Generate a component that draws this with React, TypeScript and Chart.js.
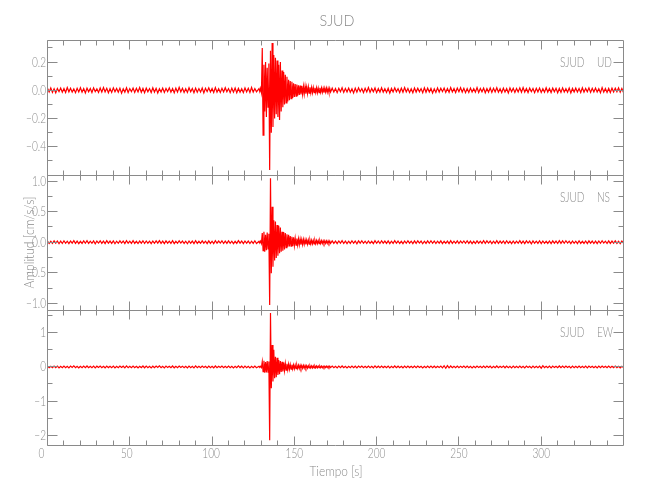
import React, { useEffect, useRef } from "react";
import { Chart, registerables } from "chart.js";

Chart.register(...registerables);

// ---------- texts ----------
const chartTitle = "SJUD";
const stationName = "SJUD";
const xAxisTitle = "Tiempo [s]";
const yAxisTitle = "Amplitud [cm/s/s]";
const componentNames = ["UD", "NS", "EW"];

// ---------- x axis ----------
const timeMin = 0;
const timeMax = 350;
const xMajorTicks = [0, 50, 100, 150, 200, 250, 300];
const xMajorLabels = ["0", "50", "100", "150", "200", "250", "300"];
const xMinorTicks = [10, 20, 30, 40, 60, 70, 80, 90, 110, 120, 130, 140, 160, 170, 180, 190, 210, 220, 230, 240, 260, 270, 280, 290, 310, 320, 330, 340];

// ---------- y axes ----------
const udRange = [-0.6, 0.356];
const udMajorTicks = [-0.4, -0.2, 0, 0.2];
const udMajorLabels = ["\u22120.4", "\u22120.2", "0.0", "0.2"];
const udMinorTicks = [-0.5, -0.3, -0.1, 0.1, 0.3];

const nsRange = [-1.11, 1.1];
const nsMajorTicks = [-1, -0.5, 0, 0.5, 1];
const nsMajorLabels = ["\u22121.0", "\u22120.5", "0.0", "0.5", "1.0"];
const nsMinorTicks = [-0.75, -0.25, 0.25, 0.75];

const ewRange = [-2.29, 1.67];
const ewMajorTicks = [-2, -1, 0, 1];
const ewMajorLabels = ["\u22122", "\u22121", "0", "1"];
const ewMinorTicks = [-1.5, -0.5, 0.5, 1.5];

// ---------- traces (successive peaks, in thousandths of cm/s/s) ----------
const amplitudeUnit = 0.001;
const preEventStart = 0; // s
const noiseStep = 1; // s
const eventStart = 128.5; // s
const eventStep = 0.5; // s
const postEventStart = 173; // s

const udPre = [
  14, -12, 17, -15, 11, -18, 13, -10, 16, -14,
  12, -16, 19, -11, 15, -13, 10, -17, 14, -12,
  18, -14, 12, -19, 15, -11, 13, -16, 17, -10,
  11, -15, 16, -13, 20, -12, 14, -18, 12, -15,
  17, -11, 13, -14, 15, -20, 11, -13, 18, -16,
  12, -10, 16, -15, 14, -12, 19, -14, 13, -17,
  15, -11, 12, -16, 18, -13, 14, -19, 11, -12,
  16, -15, 13, -10, 17, -14, 12, -18, 15, -13,
  21, -12, 14, -16, 11, -15, 18, -11, 13, -17,
  15, -14, 12, -13, 16, -19, 14, -10, 17, -12,
  13, -16, 19, -14, 11, -15, 14, -12, 18, -11,
  12, -17, 15, -13, 16, -18, 13, -14, 11, -16,
  17, -12, 14, -15, 20, -13, 12, -11,
];
const udEvent = [
  12, -10, 14, -15, 300, -317, 180, -150, 200, -190,
  160, -120, 190, -565, 280, -300, 335, -260, 250, -200,
  230, -170, 210, -190, 180, -210, 200, -150, 140, -120,
  130, -100, 110, -90, 95, -80, 75, -70, 65, -60,
  60, -55, 50, -48, 45, -42, 40, -38, 36, -33,
  34, -30, 30, -28, 27, -26, 28, -24, 22, -23,
  24, -20, 21, -19, 20, -18, 19, -17, 18, -16,
  17, -18, 15, -16, 17, -14, 16, -15, 14, -16,
  15, -13, 16, -14, 13, -15, 14, -12,
];
const udPost = [
  15, -13, 12, -17, 14, -11, 18, -15, 13, -12,
  16, -14, 11, -19, 15, -13, 17, -10, 12, -16,
  14, -12, 19, -15, 13, -11, 16, -17, 12, -14,
  18, -13, 11, -15, 14, -20, 13, -12, 17, -11,
  12, -16, 15, -14, 19, -12, 13, -15, 11, -18,
  16, -13, 14, -11, 12, -17, 18, -14, 15, -12,
  13, -19, 11, -15, 17, -13, 14, -10, 16, -15,
  12, -14, 20, -12, 13, -16, 15, -11, 18, -13,
  14, -17, 12, -15, 16, -12, 11, -14, 19, -16,
  13, -11, 15, -18, 12, -13, 17, -15, 14, -12,
  18, -14, 11, -16, 15, -13, 12, -19, 16, -11,
  14, -15, 13, -12, 17, -14, 19, -13, 12, -16,
  15, -10, 13, -17, 14, -12, 16, -15, 11, -14,
  18, -13, 12, -16, 15, -11, 14, -18, 13, -15,
  17, -12, 11, -14, 16, -19, 13, -12, 15, -13,
  12, -16, 18, -14, 13, -11, 17, -15, 14, -12,
  16, -13, 11, -17, 19, -14, 12, -15, 13, -16,
  15, -12, 14, -11, 17, -13, 12, -15,
];

const nsPre = [
  18, -22, 15, -19, 24, -16, 20, -25, 17, -21,
  23, -18, 16, -24, 19, -15, 26, -20, 18, -23,
  15, -19, 22, -17, 25, -21, 16, -18, 20, -26,
  19, -15, 23, -20, 17, -22, 24, -16, 18, -19,
  21, -25, 16, -18, 22, -15, 19, -23, 25, -17,
  17, -20, 24, -19, 15, -22, 18, -16, 23, -21,
  20, -17, 16, -24, 19, -18, 22, -15, 26, -20,
  18, -23, 21, -16, 17, -19, 24, -22, 15, -18,
  23, -15, 19, -21, 16, -25, 20, -17, 18, -22,
  25, -19, 15, -18, 22, -16, 17, -24, 21, -20,
  16, -22, 24, -17, 19, -15, 23, -21, 18, -19,
  22, -18, 17, -23, 15, -20, 26, -16, 19, -24,
  20, -17, 18, -22, 16, -19, 23, -21,
];
const nsEvent = [
  15, -14, 18, -20, 150, -140, 170, -155, 120, -130,
  160, -110, 140, -1030, 1045, -510, 580, -400, 360, -300,
  340, -260, 280, -220, 270, -180, 240, -155, 170, -140,
  165, -120, 150, -90, 130, -75, 120, -70, 100, -65,
  90, -60, 80, -55, 65, -48, 60, -45, 55, -42,
  50, -40, 45, -38, 44, -35, 40, -34, 38, -32,
  36, -30, 34, -29, 33, -27, 31, -26, 30, -25,
  29, -24, 27, -23, 26, -22, 25, -21, 24, -20,
  23, -19, 22, -20, 21, -18, 19, -20,
];
const nsPost = [
  22, -19, 17, -24, 20, -16, 25, -21, 18, -23,
  16, -20, 23, -17, 19, -25, 21, -15, 24, -18,
  17, -22, 20, -19, 15, -23, 26, -18, 19, -21,
  23, -16, 18, -20, 22, -24, 16, -19, 25, -17,
  19, -21, 15, -23, 20, -18, 24, -16, 17, -22,
  21, -19, 23, -15, 18, -25, 16, -20, 22, -17,
  24, -18, 19, -22, 17, -16, 21, -24, 15, -19,
  18, -23, 25, -20, 16, -18, 22, -21, 19, -15,
  20, -17, 23, -19, 18, -24, 15, -22, 21, -16,
  17, -20, 24, -18, 22, -15, 19, -23, 16, -21,
  25, -19, 18, -16, 20, -22, 23, -17, 15, -24,
  19, -21, 16, -18, 24, -20, 17, -23, 22, -15,
  18, -25, 21, -17, 16, -19, 23, -22, 20, -18,
  15, -20, 19, -24, 22, -16, 18, -21, 25, -19,
  21, -17, 24, -15, 17, -23, 20, -18, 16, -22,
  23, -19, 15, -20, 19, -24, 22, -16, 18, -21,
  17, -23, 20, -18, 24, -15, 16, -22, 21, -19,
  19, -16, 22, -20, 15, -24, 18, -17,
];

const ewPre = [
  22, -25, 18, -20, 27, -19, 24, -28, 20, -23,
  26, -21, 19, -27, 23, -18, 29, -22, 21, -26,
  18, -24, 25, -20, 28, -23, 19, -21, 24, -30,
  22, -18, 26, -24, 20, -25, 27, -19, 21, -22,
  25, -28, 19, -21, 26, -18, 22, -27, 29, -20,
  20, -24, 27, -22, 18, -26, 21, -19, 28, -25,
  23, -20, 19, -27, 22, -21, 26, -18, 30, -23,
  21, -26, 24, -19, 20, -22, 28, -25, 18, -21,
  27, -18, 22, -24, 19, -29, 23, -20, 21, -26,
  29, -22, 18, -21, 26, -19, 20, -28, 24, -23,
  19, -25, 28, -20, 22, -18, 27, -24, 21, -22,
  25, -21, 20, -27, 18, -23, 31, -19, 22, -28,
  23, -20, 21, -26, 19, -22, 27, -24,
];
const ewEvent = [
  18, -15, 20, -18, 155, -140, 180, -170, 140, -160,
  175, -150, 160, -2150, 1580, -625, 645, -430, 500, -330,
  300, -300, 270, -235, 200, -210, 170, -150, 150, -130,
  125, -110, 105, -95, 90, -80, 80, -70, 70, -62,
  65, -58, 60, -55, 55, -50, 52, -48, 50, -45,
  48, -44, 45, -42, 44, -38, 40, -36, 38, -34,
  35, -32, 33, -30, 31, -29, 30, -28, 28, -26,
  27, -25, 26, -24, 25, -23, 24, -22, 23, -22,
  22, -21, 22, -20, 21, -20, 21, -19,
];
const ewPost = [
  25, -22, 20, -27, 23, -19, 28, -24, 21, -26,
  19, -23, 26, -20, 22, -28, 24, -18, 27, -21,
  20, -25, 23, -22, 18, -26, 29, -21, 22, -24,
  26, -19, 21, -23, 25, -27, 19, -22, 28, -20,
  22, -24, 18, -26, 23, -21, 27, -19, 20, -25,
  24, -22, 26, -18, 21, -28, 19, -23, 25, -20,
  27, -21, 22, -25, 20, -19, 24, -27, 35, -38,
  40, -26, 28, -23, 19, -21, 25, -24, 22, -18,
  23, -20, 26, -22, 21, -27, 18, -25, 24, -19,
  20, -23, 27, -21, 25, -18, 22, -26, 19, -24,
  28, -22, 21, -19, 23, -25, 26, -20, 18, -27,
  22, -24, 19, -21, 27, -23, 20, -26, 25, -18,
  21, -28, 24, -20, 19, -22, 26, -35, 38, -21,
  18, -23, 22, -27, 25, -19, 21, -24, 28, -22,
  24, -20, 27, -18, 20, -26, 23, -21, 19, -25,
  26, -22, 18, -23, 22, -27, 25, -19, 21, -24,
  20, -26, 23, -21, 27, -18, 19, -25, 24, -22,
  22, -19, 25, -23, 18, -27, 21, -20,
];

// ---------- styling ----------
const traceColor = "#ff0000";
const inkColor = "#8a8a8a";
const fontFamily = "Lato, 'DejaVu Sans', sans-serif";

type Panel = {
  name: string;
  range: number[];
  major: number[];
  majorLabels: string[];
  minor: number[];
  pre: number[];
  event: number[];
  post: number[];
  padTop: number;
  padBottom: number;
  isTop: boolean;
  isMiddle: boolean;
  isBottom: boolean;
};

const panels: Panel[] = [
  { name: componentNames[0], range: udRange, major: udMajorTicks, majorLabels: udMajorLabels, minor: udMinorTicks, pre: udPre, event: udEvent, post: udPost, padTop: 40, padBottom: 325, isTop: true, isMiddle: false, isBottom: false },
  { name: componentNames[1], range: nsRange, major: nsMajorTicks, majorLabels: nsMajorLabels, minor: nsMinorTicks, pre: nsPre, event: nsEvent, post: nsPost, padTop: 175, padBottom: 190, isTop: false, isMiddle: true, isBottom: false },
  { name: componentNames[2], range: ewRange, major: ewMajorTicks, majorLabels: ewMajorLabels, minor: ewMinorTicks, pre: ewPre, event: ewEvent, post: ewPost, padTop: 310, padBottom: 55, isTop: false, isMiddle: false, isBottom: true },
];

function buildTrace(pre: number[], event: number[], post: number[]) {
  const pts: { x: number; y: number }[] = [];
  pre.forEach((v, i) => pts.push({ x: preEventStart + i * noiseStep, y: v * amplitudeUnit }));
  event.forEach((v, i) => pts.push({ x: eventStart + i * eventStep, y: v * amplitudeUnit }));
  post.forEach((v, i) => pts.push({ x: postEventStart + i * noiseStep, y: v * amplitudeUnit }));
  return pts;
}

const crisp = (v: number) => Math.floor(v) + 0.5;

function drawText(
  ctx: CanvasRenderingContext2D,
  text: string,
  x: number,
  y: number,
  size: number,
  align: CanvasTextAlign,
  scaleX: number,
  rotate = 0
) {
  ctx.save();
  ctx.translate(x, y);
  if (rotate) ctx.rotate(rotate);
  ctx.scale(scaleX, 1);
  ctx.font = `300 ${size}px ${fontFamily}`;
  ctx.fillStyle = inkColor;
  ctx.textAlign = align;
  ctx.textBaseline = "middle";
  ctx.fillText(text, 0, 0);
  ctx.restore();
}

function drawTextWidth(
  ctx: CanvasRenderingContext2D,
  text: string,
  x: number,
  y: number,
  size: number,
  width: number,
  rotate = 0
) {
  ctx.save();
  ctx.font = `300 ${size}px ${fontFamily}`;
  const w = ctx.measureText(text).width || width;
  ctx.restore();
  drawText(ctx, text, x, y, size, "center", width / w, rotate);
}

// small left shifts of the narrow x labels, as in the original plot
const xLabelNudge = [-6, -3, -1, 0, 0, 0, 0];

function makeFramePlugin(panel: Panel) {
  return {
    id: "idlFrame",
    afterDatasetsDraw(chart: any) {
      const ctx: CanvasRenderingContext2D = chart.ctx;
      const a = chart.chartArea;
      const xs = chart.scales.x;
      const ys = chart.scales.y;
      const L = crisp(a.left);
      const R = crisp(a.right);
      const T = crisp(a.top);
      const B = crisp(a.bottom);
      ctx.save();
      ctx.strokeStyle = inkColor;
      ctx.lineWidth = 1;
      ctx.beginPath();
      ctx.moveTo(L, T);
      ctx.lineTo(R, T);
      ctx.lineTo(R, B);
      ctx.lineTo(L, B);
      ctx.closePath();
      const xTick = (v: number, len: number) => {
        const px = crisp(xs.getPixelForValue(v));
        ctx.moveTo(px, T);
        ctx.lineTo(px, T + len);
        ctx.moveTo(px, B);
        ctx.lineTo(px, B - len);
      };
      const yTick = (v: number, len: number) => {
        const py = crisp(ys.getPixelForValue(v));
        ctx.moveTo(L, py);
        ctx.lineTo(L + len, py);
        ctx.moveTo(R, py);
        ctx.lineTo(R - len, py);
      };
      xMajorTicks.forEach((v) => xTick(v, 9));
      xMinorTicks.forEach((v) => xTick(v, 5));
      panel.major.forEach((v) => yTick(v, 10));
      panel.minor.forEach((v) => yTick(v, 5));
      ctx.stroke();
      ctx.restore();

      // y tick labels
      panel.major.forEach((v, i) => {
        drawText(ctx, panel.majorLabels[i], a.left - 1.5, ys.getPixelForValue(v), 14, "right", 0.72);
      });
      // station / component label
      drawText(ctx, stationName, 560, a.top + 22, 14, "left", 0.72);
      drawText(ctx, panel.name, 597, a.top + 22, 14, "left", 0.72);

      if (panel.isBottom) {
        xMajorTicks.forEach((v, i) => {
          drawText(ctx, xMajorLabels[i], xs.getPixelForValue(v) + xLabelNudge[i], a.bottom + 8.5, 14, "center", 0.72);
        });
        drawTextWidth(ctx, xAxisTitle, 336, 471.5, 14, 53);
      }
      if (panel.isTop) {
        drawTextWidth(ctx, chartTitle, 337, 21, 15, 35);
      }
      if (panel.isMiddle) {
        drawTextWidth(ctx, yAxisTitle, 29.5, 242.5, 13.5, 92, -Math.PI / 2);
      }
    },
  };
}

function PanelCanvas({ panel }: { panel: Panel }) {
  const ref = useRef<HTMLCanvasElement | null>(null);
  useEffect(() => {
    if (!ref.current) return;
    const chart = new Chart(ref.current, {
      type: "line",
      data: {
        datasets: [
          {
            data: buildTrace(panel.pre, panel.event, panel.post),
            borderColor: traceColor,
            borderWidth: 1.2,
            pointRadius: 0,
            tension: 0,
            fill: false,
          },
        ],
      },
      options: {
        animation: false,
        responsive: false,
        devicePixelRatio: 1,
        events: [],
        layout: { padding: { left: 47.5, right: 26.5, top: panel.padTop, bottom: panel.padBottom } },
        scales: {
          x: { type: "linear", min: timeMin, max: timeMax, display: false },
          y: { type: "linear", min: panel.range[0], max: panel.range[1], display: false },
        },
        plugins: { legend: { display: false }, tooltip: { enabled: false }, title: { display: false } },
      },
      plugins: [makeFramePlugin(panel)],
    } as any);
    return () => chart.destroy();
  }, [panel]);
  return (
    <canvas
      ref={ref}
      width={650}
      height={500}
      style={{ position: "absolute", left: 0, top: 0, width: 650, height: 500 }}
    />
  );
}

export default function App() {
  return (
    <div style={{ position: "fixed", left: 0, top: 0, width: 650, height: 500, background: "#ffffff" }}>
      {panels.map((p) => (
        <PanelCanvas key={p.name} panel={p} />
      ))}
    </div>
  );
}
